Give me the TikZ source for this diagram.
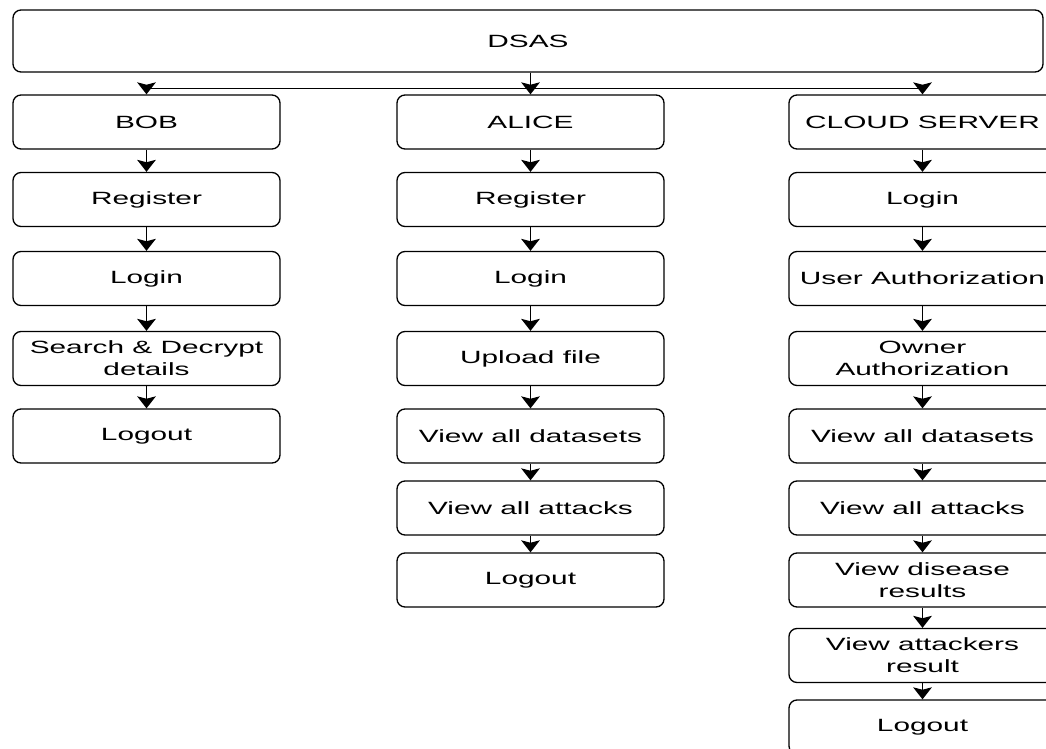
\documentclass[tikz,border=0pt]{standalone}
\usepackage{fontspec}
\setmainfont{Liberation Sans}[FakeStretch=1.68]
\usepackage{tikz}
\usetikzlibrary{arrows.meta, positioning, calc}

\tikzset{
  blocco/.style={draw, line width=1pt, rounded corners=6pt, minimum width=200.25pt,
    minimum height=40.5pt, inner sep=0pt, align=center,
    font=\fontsize{13.3}{16.5}\selectfont},
  freccia/.style={line width=1pt, -{Stealth[length=9pt, width=14pt, inset=1.8pt]}}
}

\begin{document}
\begin{tikzpicture}[x=0.75pt, y=-0.75pt]
    \useasboundingbox (0,0) rectangle (1046,749);
    \clip (0,0) rectangle (1046,749);

    % Blocco principale
    \node[blocco, minimum width=772.5pt, minimum height=46.5pt] (dsas) at (528,41) {DSAS};

    % Colonna BOB
    \node[blocco] (bob) at (146.5,122) {BOB};
    \node[blocco] (bobreg) at (146.5,199.5) {Register};
    \node[blocco] (boblog) at (146.5,278.5) {Login};
    \node[blocco] (bobsearch) at (146.5,358.5) {Search \& Decrypt\\details};
    \node[blocco] (bobout) at (146.5,436) {Logout};

    % Colonna ALICE
    \node[blocco] (alice) at (530.5,122) {ALICE};
    \node[blocco] (alireg) at (530.5,199.5) {Register};
    \node[blocco] (alilog) at (530.5,278.5) {Login};
    \node[blocco] (aliup) at (530.5,358.5) {Upload file};
    \node[blocco] (alidata) at (530.5,436) {View all datasets};
    \node[blocco] (aliatt) at (530.5,508) {View all attacks};
    \node[blocco] (aliout) at (530.5,580) {Logout};

    % Colonna CLOUD SERVER
    \node[blocco] (cloud) at (922.5,122) {CLOUD SERVER};
    \node[blocco] (cslog) at (922.5,199.5) {Login};
    \node[blocco] (csuser) at (922.5,278.5) {User Authorization};
    \node[blocco] (csowner) at (922.5,358.5) {Owner\\Authorization};
    \node[blocco] (csdata) at (922.5,436) {View all datasets};
    \node[blocco] (csatt) at (922.5,508) {View all attacks};
    \node[blocco] (csdis) at (922.5,580) {View disease\\results};
    \node[blocco] (csres) at (922.5,655.5) {View attackers\\result};
    \node[blocco] (csout) at (922.5,727) {Logout};

    % Frecce dal blocco principale
    \draw[freccia] (dsas.south -| alice) -- (alice);
    \draw[freccia] (dsas.south -| alice) -- ++(0,16) -| (bob);
    \draw[freccia] (dsas.south -| alice) -- ++(0,16) -| (cloud);

    % Frecce lungo le colonne
    \foreach \a/\b in {bob/bobreg, bobreg/boblog, boblog/bobsearch, bobsearch/bobout,
        alice/alireg, alireg/alilog, alilog/aliup, aliup/alidata, alidata/aliatt, aliatt/aliout,
        cloud/cslog, cslog/csuser, csuser/csowner, csowner/csdata, csdata/csatt,
        csatt/csdis, csdis/csres, csres/csout}
        \draw[freccia] (\a) -- (\b);
\end{tikzpicture}
\end{document}
